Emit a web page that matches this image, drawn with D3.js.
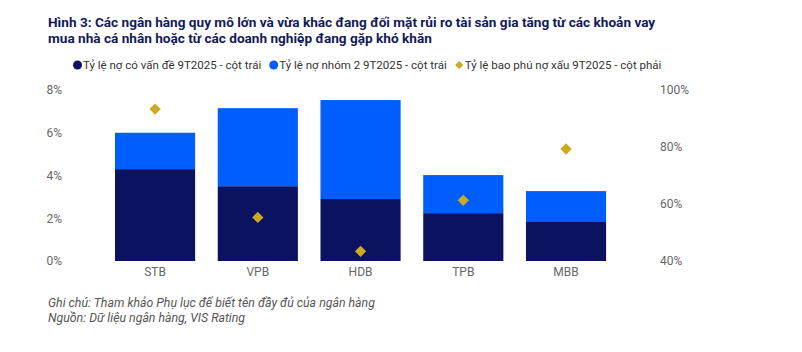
<!DOCTYPE html>
<html>
<head>
<meta charset="utf-8">
<script src="https://cdn.jsdelivr.net/npm/d3@7"></script>
<style>
  html, body { margin: 0; padding: 0; background: #fff; }
  svg { display: block; font-family: Roboto, "Noto Sans", sans-serif; }
</style>
</head>
<body>
<div id="chart"></div>
<script>
// ── Data ─────────────────────────────────────
const BANKS      = ["STB", "VPB", "HDB", "TPB", "MBB"];
const PROBLEM    = [4.3, 3.5, 2.9, 2.24, 1.86];     // Tỷ lệ nợ có vấn đề (%)
const GROUP2     = [1.7, 3.65, 4.63, 1.78, 1.41];   // Tỷ lệ nợ nhóm 2 (%)
const COVERAGE   = [93.3, 55.3, 43.4, 61.3, 79.3];  // Tỷ lệ bao phú nợ xấu (%)
const LEFT_TICKS  = [0, 2, 4, 6, 8];
const RIGHT_TICKS = [40, 60, 80, 100];

const TITLE = [
  "Hình 3: Các ngân hàng quy mô lớn và vừa khác đang đối mặt rủi ro tài sản gia tăng từ các khoản vay",
  "mua nhà cá nhân hoặc từ các doanh nghiệp đang gặp khó khăn"
];
const LEGEND = [
  "Tỷ lệ nợ có vấn đề 9T2025 - cột trái",
  "Tỷ lệ nợ nhóm 2 9T2025 - cột trái",
  "Tỷ lệ bao phú nợ xấu 9T2025 - cột phải"
];
const NOTES = [
  "Ghi chú: Tham khảo Phụ lục để biết tên đầy đủ của ngân hàng",
  "Nguồn: Dữ liệu ngân hàng, VIS Rating"
];

const C_DARK = "#0b1361", C_BLUE = "#005eff", C_GOLD = "#c9aa22";
const C_TEXT = "#666666";

// ── Layout ───────────────────────────────────
const W = 802, H = 352;
const svg = d3.select("#chart").append("svg").attr("width", W).attr("height", H);

const x = d3.scaleBand().domain(BANKS).range([103.7, 617.4])
  .paddingInner(0.22).paddingOuter(0.11);
const yL = d3.scaleLinear().domain([0, 8]).range([261, 90]);
const yR = d3.scaleLinear().domain([40, 100]).range([261, 90]);

// Title
svg.append("g").selectAll("text").data(TITLE).join("text")
  .attr("x", 48).attr("y", (d, i) => 27 + i * 16)
  .attr("font-size", "13.6px").attr("font-weight", 700)
  .attr("fill", "#121a5c").text(d => d);

// Legend
const leg = svg.append("g").attr("transform", "translate(0,65)");
let lx = 73;
LEGEND.forEach((t, i) => {
  const it = leg.append("g").attr("transform", `translate(${lx},0)`);
  if (i < 2) {
    it.append("circle").attr("cx", 4.5).attr("cy", 0).attr("r", 4.5)
      .attr("fill", i === 0 ? C_DARK : C_BLUE);
  } else {
    it.append("path").attr("d", d3.symbol(d3.symbolSquare, 34)())
      .attr("transform", "translate(4.5,0) rotate(45)").attr("fill", C_GOLD);
  }
  const tx = it.append("text").attr("x", 10).attr("y", 4)
    .attr("font-size", "11.5px").attr("fill", "#333").text(t);
  lx += 10 + tx.node().getComputedTextLength() + 8;
});

// Left axis
const axL = svg.append("g").attr("transform", "translate(62,0)")
  .call(d3.axisLeft(yL).tickValues(LEFT_TICKS).tickSize(0).tickPadding(0)
    .tickFormat(d => d + "%"));
axL.select(".domain").remove();
axL.selectAll("text").attr("font-size", "12px").attr("fill", C_TEXT)
  .attr("font-family", "Roboto, sans-serif");

// Right axis
const axR = svg.append("g").attr("transform", "translate(660,0)")
  .call(d3.axisRight(yR).tickValues(RIGHT_TICKS).tickSize(0).tickPadding(0)
    .tickFormat(d => d + "%"));
axR.select(".domain").remove();
axR.selectAll("text").attr("font-size", "12px").attr("fill", C_TEXT)
  .attr("font-family", "Roboto, sans-serif");

// Stacked bars
const rows = BANKS.map((b, i) => ({ bank: b, problem: PROBLEM[i], group2: GROUP2[i], cov: COVERAGE[i] }));
const stack = d3.stack().keys(["problem", "group2"])(rows);
svg.append("g").selectAll("g").data(stack).join("g")
  .attr("fill", (d, i) => i === 0 ? C_DARK : C_BLUE)
  .selectAll("rect").data(d => d).join("rect")
  .attr("x", d => x(d.data.bank))
  .attr("y", d => yL(d[1]))
  .attr("width", x.bandwidth())
  .attr("height", d => yL(d[0]) - yL(d[1]));

// Coverage diamonds
svg.append("g").selectAll("path").data(rows).join("path")
  .attr("d", d3.symbol(d3.symbolSquare, 64)())
  .attr("transform", d => `translate(${x(d.bank) + x.bandwidth() / 2},${yR(d.cov)}) rotate(45)`)
  .attr("fill", C_GOLD);

// X axis labels
const axX = svg.append("g").attr("transform", "translate(0,261)")
  .call(d3.axisBottom(x).tickSize(0).tickPadding(6));
axX.select(".domain").remove();
axX.selectAll("text").attr("font-size", "12px").attr("fill", C_TEXT)
  .attr("font-family", "Roboto, sans-serif");

// Notes
svg.append("g").selectAll("text").data(NOTES).join("text")
  .attr("x", 48).attr("y", (d, i) => 307 + i * 14.5)
  .attr("font-size", "12.3px").attr("font-style", "italic")
  .attr("fill", "#555").text(d => d);
</script>
</body>
</html>
